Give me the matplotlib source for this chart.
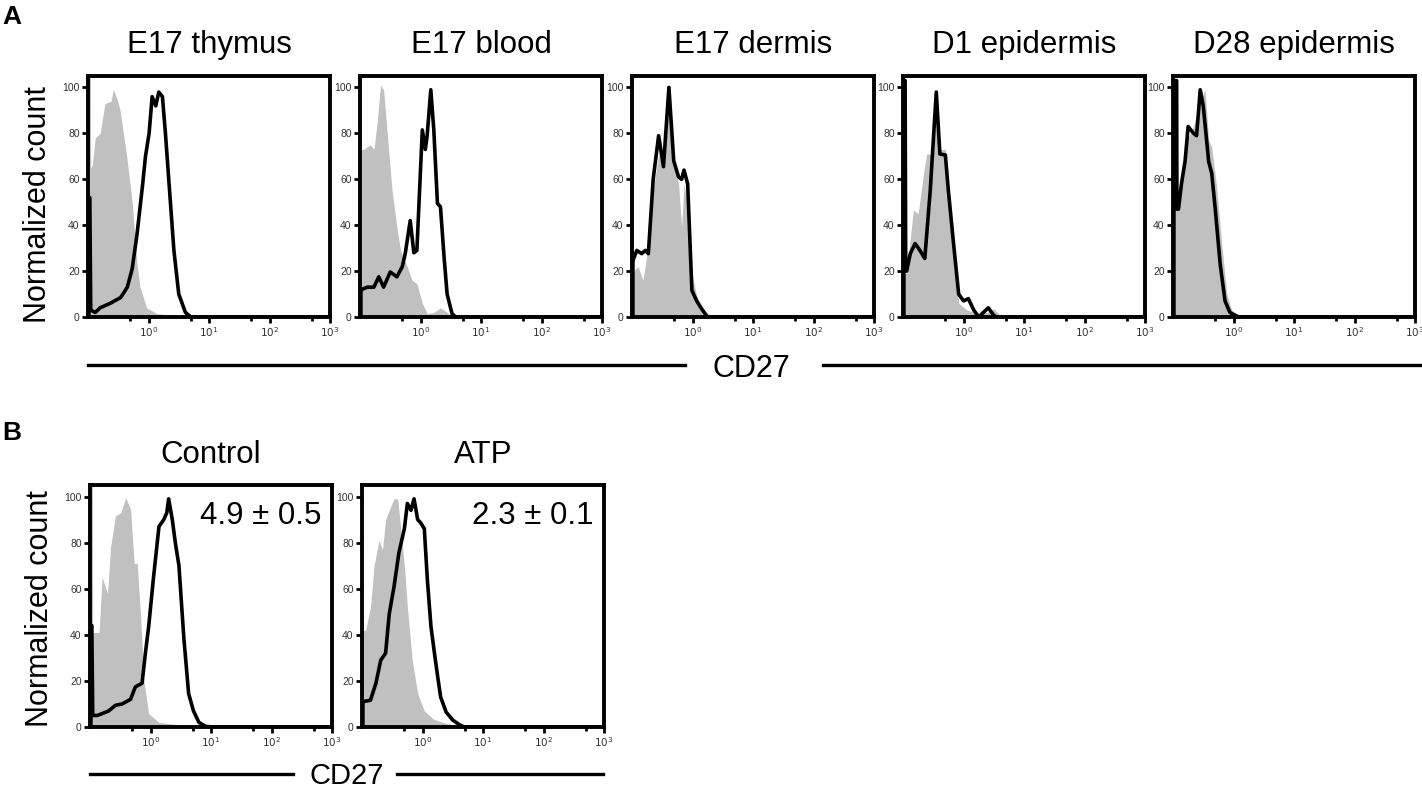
import numpy as np
import matplotlib.pyplot as plt
from matplotlib.lines import Line2D

plt.rcParams['font.family'] = ['Liberation Sans', 'DejaVu Sans']

# x positions are log10(CD27), y is normalized count
titles_a = ['E17 thymus', 'E17 blood', 'E17 dermis', 'D1 epidermis', 'D28 epidermis']
titles_b = ['Control', 'ATP']
notes_b = ['4.9 ± 0.5', '2.3 ± 0.1']

thymus_gray_x = [-1.0, -0.96, -0.955, -0.93, -0.88, -0.80, -0.72, -0.62, -0.58, -0.52, -0.47, -0.36, -0.27, -0.19, -0.14, -0.03, 0.14, 0.47, 0.70]
thymus_gray_y = [105, 105, 65, 66, 78, 80, 93, 94, 99, 95, 90, 70, 50, 23, 13, 4, 1.5, 0.5, 0]
thymus_black_x = [-0.985, -0.985, -0.97, -0.955, -0.88, -0.80, -0.63, -0.46, -0.35, -0.27, -0.19, -0.10, -0.05, 0.01, 0.06, 0.12, 0.17, 0.23, 0.28, 0.34, 0.42, 0.50, 0.61, 0.70]
thymus_black_y = [0, 52, 52, 3, 2, 4, 6, 8.5, 13, 21, 36, 57, 70, 80, 96, 92, 98, 96, 80, 58, 29, 10, 2, 0]

blood_gray_x = [-1.0, -0.94, -0.83, -0.77, -0.72, -0.66, -0.61, -0.55, -0.47, -0.39, -0.33, -0.22, -0.14, -0.06, 0.03, 0.11, 0.22, 0.33, 0.44, 0.52]
blood_gray_y = [73, 73, 75, 73, 84, 101, 99, 80, 55, 39, 29, 22, 16, 14.5, 6, 1.5, 2, 4, 2, 0]
blood_black_x = [-0.985, -0.985, -0.97, -0.88, -0.77, -0.69, -0.61, -0.50, -0.39, -0.30, -0.25, -0.17, -0.11, -0.06, 0.03, 0.08, 0.11, 0.17, 0.22, 0.28, 0.33, 0.39, 0.44, 0.52, 0.58]
blood_black_y = [0, 11, 12, 13, 13, 17.5, 13, 19.6, 17.5, 22, 28, 42, 28, 29, 81.5, 73, 79, 99, 81.5, 49.5, 48, 26, 10, 1.5, 0]

dermis_gray_x = [-1.0, -0.98, -0.90, -0.82, -0.76, -0.65, -0.56, -0.48, -0.39, -0.31, -0.23, -0.18, -0.14, -0.08, -0.01, 0.07, 0.15, 0.24, 0.30]
dermis_gray_y = [20, 20, 22, 16, 26, 55, 71, 65, 92, 67, 58, 39, 58, 48, 19, 9, 4, 0.7, 0]
dermis_black_x = [-0.985, -0.985, -0.98, -0.92, -0.84, -0.78, -0.73, -0.65, -0.56, -0.48, -0.39, -0.31, -0.23, -0.18, -0.14, -0.08, -0.01, 0.07, 0.15, 0.24, 0.29]
dermis_black_y = [0, 25, 25, 29, 27.6, 29, 27.6, 60, 79, 65.5, 100, 68, 61, 60, 64, 58, 11.6, 7, 3.6, 0.3, 0]

d1_gray_x = [-1.0, -0.94, -0.83, -0.75, -0.66, -0.61, -0.52, -0.45, -0.39, -0.30, -0.25, -0.17, -0.08, 0.06, 0.22, 0.39, 0.50, 0.61, 0.72]
d1_gray_y = [19, 19, 46.6, 45, 62.6, 71, 71, 92, 73, 73, 55, 33, 6, 3, 1.5, 2, 3.6, 0.7, 0]
d1_black_x = [-0.985, -0.985, -0.965, -0.955, -0.94, -0.88, -0.80, -0.72, -0.64, -0.55, -0.45, -0.39, -0.30, -0.25, -0.17, -0.08, 0.0, 0.08, 0.17, 0.25, 0.33, 0.41, 0.50, 0.55]
d1_black_y = [0, 103, 103, 20, 20, 27.6, 32, 29, 25.5, 55, 98, 71, 70.6, 55, 33.5, 10, 7, 8, 3, 0, 2, 4, 0.7, 0]

d28_gray_x = [-1.0, -0.94, -0.86, -0.77, -0.66, -0.58, -0.47, -0.41, -0.36, -0.28, -0.19, -0.11, -0.03, 0.11]
d28_gray_y = [46.6, 46.6, 62.6, 77, 83, 92, 99, 77, 74, 57, 30.5, 10, 3, 0]
d28_black_x = [-0.985, -0.985, -0.94, -0.935, -0.91, -0.86, -0.80, -0.75, -0.66, -0.61, -0.55, -0.50, -0.41, -0.36, -0.30, -0.22, -0.14, -0.06, 0.06, 0.11]
d28_black_y = [0, 103, 103, 47, 47, 58, 68, 83, 80, 79, 99, 92, 67.7, 62.6, 46.6, 23, 7, 2, 0.3, 0]

ctrl_gray_x = [-1.0, -0.96, -0.955, -0.85, -0.80, -0.71, -0.66, -0.58, -0.49, -0.41, -0.33, -0.27, -0.22, -0.16, -0.11, -0.03, 0.14, 0.30, 0.52, 0.85]
ctrl_gray_y = [105, 105, 41, 41, 65, 58, 78, 91.6, 93, 99.6, 94.5, 71, 71, 46.5, 20, 5.8, 2, 1.5, 0.8, 0]
ctrl_black_x = [-0.985, -0.985, -0.97, -0.955, -0.88, -0.80, -0.69, -0.58, -0.47, -0.33, -0.25, -0.14, -0.08, -0.03, 0.05, 0.14, 0.22, 0.27, 0.30, 0.36, 0.41, 0.47, 0.55, 0.63, 0.71, 0.80, 0.91, 1.02]
ctrl_black_y = [0, 44, 44, 5, 5, 5.8, 7, 9.4, 10, 12, 17.4, 19, 33, 43.6, 65, 87, 90, 93, 99, 90, 80, 70, 39, 14.5, 7, 2, 0.3, 0]

atp_gray_x = [-1.0, -0.94, -0.86, -0.80, -0.72, -0.66, -0.61, -0.52, -0.47, -0.41, -0.36, -0.30, -0.25, -0.17, -0.08, 0.03, 0.17, 0.33, 0.50, 0.61]
atp_gray_y = [42, 42, 52, 70, 81, 77, 90, 96, 99, 99, 86, 70, 52, 29, 14.5, 7, 3.6, 2, 1, 0]
atp_black_x = [-0.985, -0.985, -0.86, -0.77, -0.69, -0.61, -0.55, -0.47, -0.39, -0.30, -0.25, -0.19, -0.14, -0.08, -0.03, 0.03, 0.08, 0.14, 0.19, 0.25, 0.30, 0.39, 0.50, 0.61, 0.69]
atp_black_y = [0, 11, 11.6, 19, 29, 32, 49, 61, 75.6, 86, 97, 94, 99, 90, 88.6, 86, 64, 43.6, 33.5, 22, 13, 6.5, 3, 1, 0]

data_a = [(thymus_gray_x, thymus_gray_y, thymus_black_x, thymus_black_y),
          (blood_gray_x, blood_gray_y, blood_black_x, blood_black_y),
          (dermis_gray_x, dermis_gray_y, dermis_black_x, dermis_black_y),
          (d1_gray_x, d1_gray_y, d1_black_x, d1_black_y),
          (d28_gray_x, d28_gray_y, d28_black_x, d28_black_y)]
data_b = [(ctrl_gray_x, ctrl_gray_y, ctrl_black_x, ctrl_black_y),
          (atp_gray_x, atp_gray_y, atp_black_x, atp_black_y)]

W, H = 1422, 788
fig = plt.figure(figsize=(W / 100, H / 100), dpi=100)


def px_axes(left, top, width, height):
    return fig.add_axes([left / W, 1 - (top + height) / H, width / W, height / H])


def draw_hist(ax, gx, gy, bx, by):
    gx = np.array(list(gx) + [3.0])
    gy = np.array(list(gy) + [0])
    bx = np.array(list(bx) + [3.0])
    by = np.array(list(by) + [0])
    ax.fill_between(10 ** gx, gy, 0, color='#c0c0c0', lw=0)
    ax.plot(10 ** bx, by, color='black', lw=2.6, solid_joinstyle='round')
    ax.set_xscale('log')
    ax.set_xlim(10 ** -1, 10 ** 3)
    ax.set_ylim(0, 105)
    ax.set_yticks([0, 20, 40, 60, 80, 100])
    ax.set_xticks([1, 10, 100, 1000])
    ax.set_xticklabels([r'$10^0$', r'$10^1$', r'$10^2$', r'$10^3$'])
    ax.set_xticks([0.5, 5, 50, 500], minor=True)
    ax.tick_params(axis='both', which='major', labelsize=7.5, labelcolor='#333333',
                   length=4, width=2, direction='out', pad=2)
    ax.tick_params(axis='x', which='minor', length=3, width=2, direction='out')
    for s in ax.spines.values():
        s.set_linewidth(2.8)


def title_at(ax, text, baseline_px):
    b = ax.get_position()
    fig.text(b.x0 + b.width / 2, 1 - baseline_px / H, text, fontsize=22.5,
             ha='center', va='baseline')


lefts_a = [88, 360, 632, 903, 1173]
for i, (left, t, d) in enumerate(zip(lefts_a, titles_a, data_a)):
    ax = px_axes(left, 76, 242, 241)
    draw_hist(ax, *d)
    title_at(ax, t, 53)
    if i == 0:
        ax.set_ylabel('Normalized count', fontsize=22)
        ax.yaxis.set_label_coords(-0.145, 0.465)

lefts_b = [90, 362]
for i, (left, t, d, n) in enumerate(zip(lefts_b, titles_b, data_b, notes_b)):
    ax = px_axes(left, 485, 242, 242)
    draw_hist(ax, *d)
    title_at(ax, t, 463)
    ax.text(0.955, 0.935, n, transform=ax.transAxes, fontsize=22.5, ha='right', va='top')
    if i == 0:
        ax.set_ylabel('Normalized count', fontsize=22)
        ax.yaxis.set_label_coords(-0.145, 0.49)

# CD27 axis labels with bars
fig.add_artist(Line2D([88 / W, 685 / W], [1 - 365 / H] * 2, color='black', lw=2.4))
fig.add_artist(Line2D([823 / W, 1422 / W], [1 - 365 / H] * 2, color='black', lw=2.4))
fig.text(751 / W, 1 - 377 / H, 'CD27', fontsize=22, ha='center', va='baseline')

fig.add_artist(Line2D([90 / W, 293 / W], [1 - 774 / H] * 2, color='black', lw=2.4))
fig.add_artist(Line2D([397 / W, 603 / W], [1 - 774 / H] * 2, color='black', lw=2.4))
fig.text(347 / W, 1 - 784 / H, 'CD27', fontsize=21, ha='center', va='baseline')

fig.text(2 / W, 1 - 24 / H, 'A', fontsize=19, fontweight='bold', va='baseline')
fig.text(2 / W, 1 - 440 / H, 'B', fontsize=19, fontweight='bold', va='baseline')

fig.savefig('out.png', dpi=100)
